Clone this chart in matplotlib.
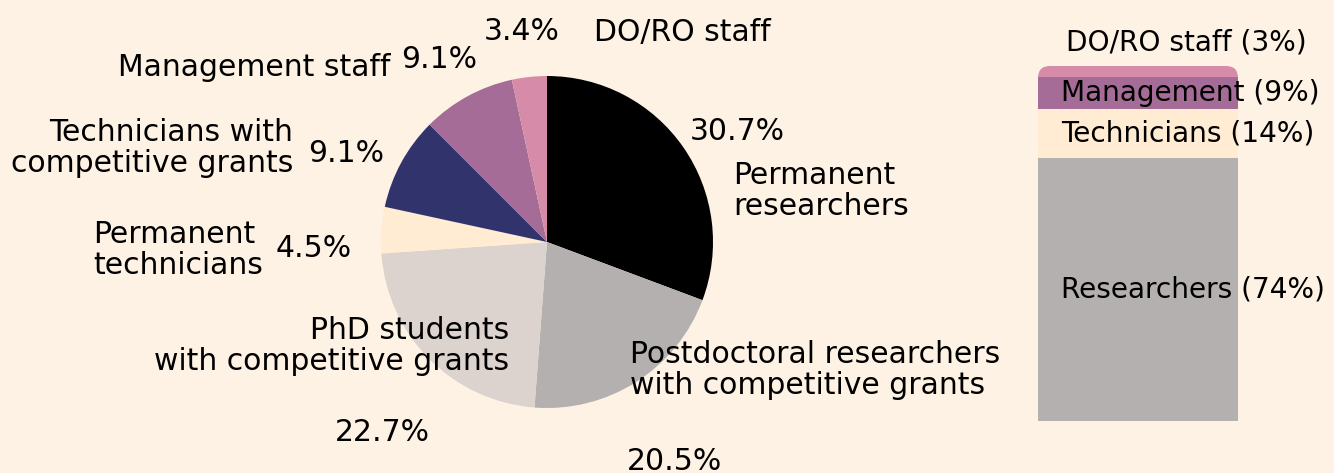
import numpy as np
import matplotlib
matplotlib.use("Agg")
import matplotlib.pyplot as plt
from matplotlib.patches import FancyBboxPatch

# pie data (clockwise from 12 o'clock)
pie_labels = ["Permanent\nresearchers",
              "Postdoctoral researchers\nwith competitive grants",
              "PhD students\nwith competitive grants",
              "Permanent\ntechnicians",
              "Technicians with\ncompetitive grants",
              "Management staff",
              "DO/RO staff"]
pie_values = [30.7, 20.5, 22.7, 4.5, 9.1, 9.1, 3.4]
pie_colors = ["#000000", "#b3b0af", "#ddd3ce", "#ffecd3",
              "#31346c", "#a46c96", "#d68ca9"]

# stacked bar data (bottom to top)
bar_labels = ["Researchers", "Technicians", "Management", "DO/RO staff"]
bar_values = [74, 14, 9, 3]
bar_colors = ["#b3b0af", "#ffecd3", "#a46c96", "#d68ca9"]

BG = "#fef2e4"
W, H = 1334, 473
FS = 21.5
FS_BAR = 20.2
LS = 1.07
plt.rcParams["font.family"] = ["DejaVu Sans"]

fig = plt.figure(figsize=(W / 100, H / 100), dpi=100)
fig.patch.set_facecolor(BG)


def px(x, y):
    return x / W, 1 - y / H


# pie
cx, cy, r = 547, 242, 166
ax = fig.add_axes([(cx - r) / W, 1 - (cy + r) / H, 2 * r / W, 2 * r / H])
ax.pie(pie_values, colors=pie_colors, startangle=90, counterclock=False,
       radius=1, wedgeprops=dict(linewidth=0))
ax.set_xlim(-1, 1)
ax.set_ylim(-1, 1)
ax.set_aspect("equal")
ax.axis("off")

# label placement: (name x, name y, name ha, pct x, pct y, pct ha)
label_pos = [
    (733, 191, "left", 690, 131, "left"),
    (630, 370, "left", 627, 461, "left"),
    (509, 346, "right", 335, 432, "left"),
    (93, 250, "left", 276, 248, "left"),
    (293, 148, "right", 308, 153, "left"),
    (390, 67, "right", 401, 60, "left"),
    (594, 33, "left", 484, 32, "left"),
]
for lab, val, (nx, ny, nha, vx, vy, vha) in zip(pie_labels, pie_values, label_pos):
    fig.text(*px(nx, ny), lab, ha=nha, va="center", multialignment=nha,
             fontsize=FS, linespacing=LS, color="black")
    fig.text(*px(vx, vy), f"{val:.1f}%", ha=vha, va="center",
             fontsize=FS, color="black")

# stacked bar
bx0, bx1, by0, by1 = 1038, 1238, 66, 421
bax = fig.add_axes([bx0 / W, 1 - by1 / H, (bx1 - bx0) / W, (by1 - by0) / H])
bax.set_xlim(0, 1)
bax.set_ylim(0, sum(bar_values))
bax.axis("off")
aspect = (sum(bar_values) / (by1 - by0)) / (1 / (bx1 - bx0))
clip = FancyBboxPatch((0, -10), 1, sum(bar_values) + 10,
                      boxstyle="round,pad=0,rounding_size=0.06",
                      mutation_aspect=aspect, transform=bax.transData,
                      facecolor="none", edgecolor="none")
bax.add_patch(clip)
bottom = 0
for lab, val, col in zip(bar_labels, bar_values, bar_colors):
    bars = bax.bar(0.5, val, width=1, bottom=bottom, color=col, linewidth=0)
    for b in bars:
        b.set_clip_path(clip)
    mid_px = by1 - (bottom + val / 2) / sum(bar_values) * (by1 - by0)
    if lab == "DO/RO staff":
        fig.text(*px(1066, 43), f"{lab} ({val}%)", ha="left", va="center",
                 fontsize=FS_BAR)
    else:
        fig.text(*px(1061, mid_px), f"{lab} ({val}%)", ha="left", va="center",
                 fontsize=FS_BAR)
    bottom += val

fig.savefig("out.png", dpi=100, facecolor=BG)
